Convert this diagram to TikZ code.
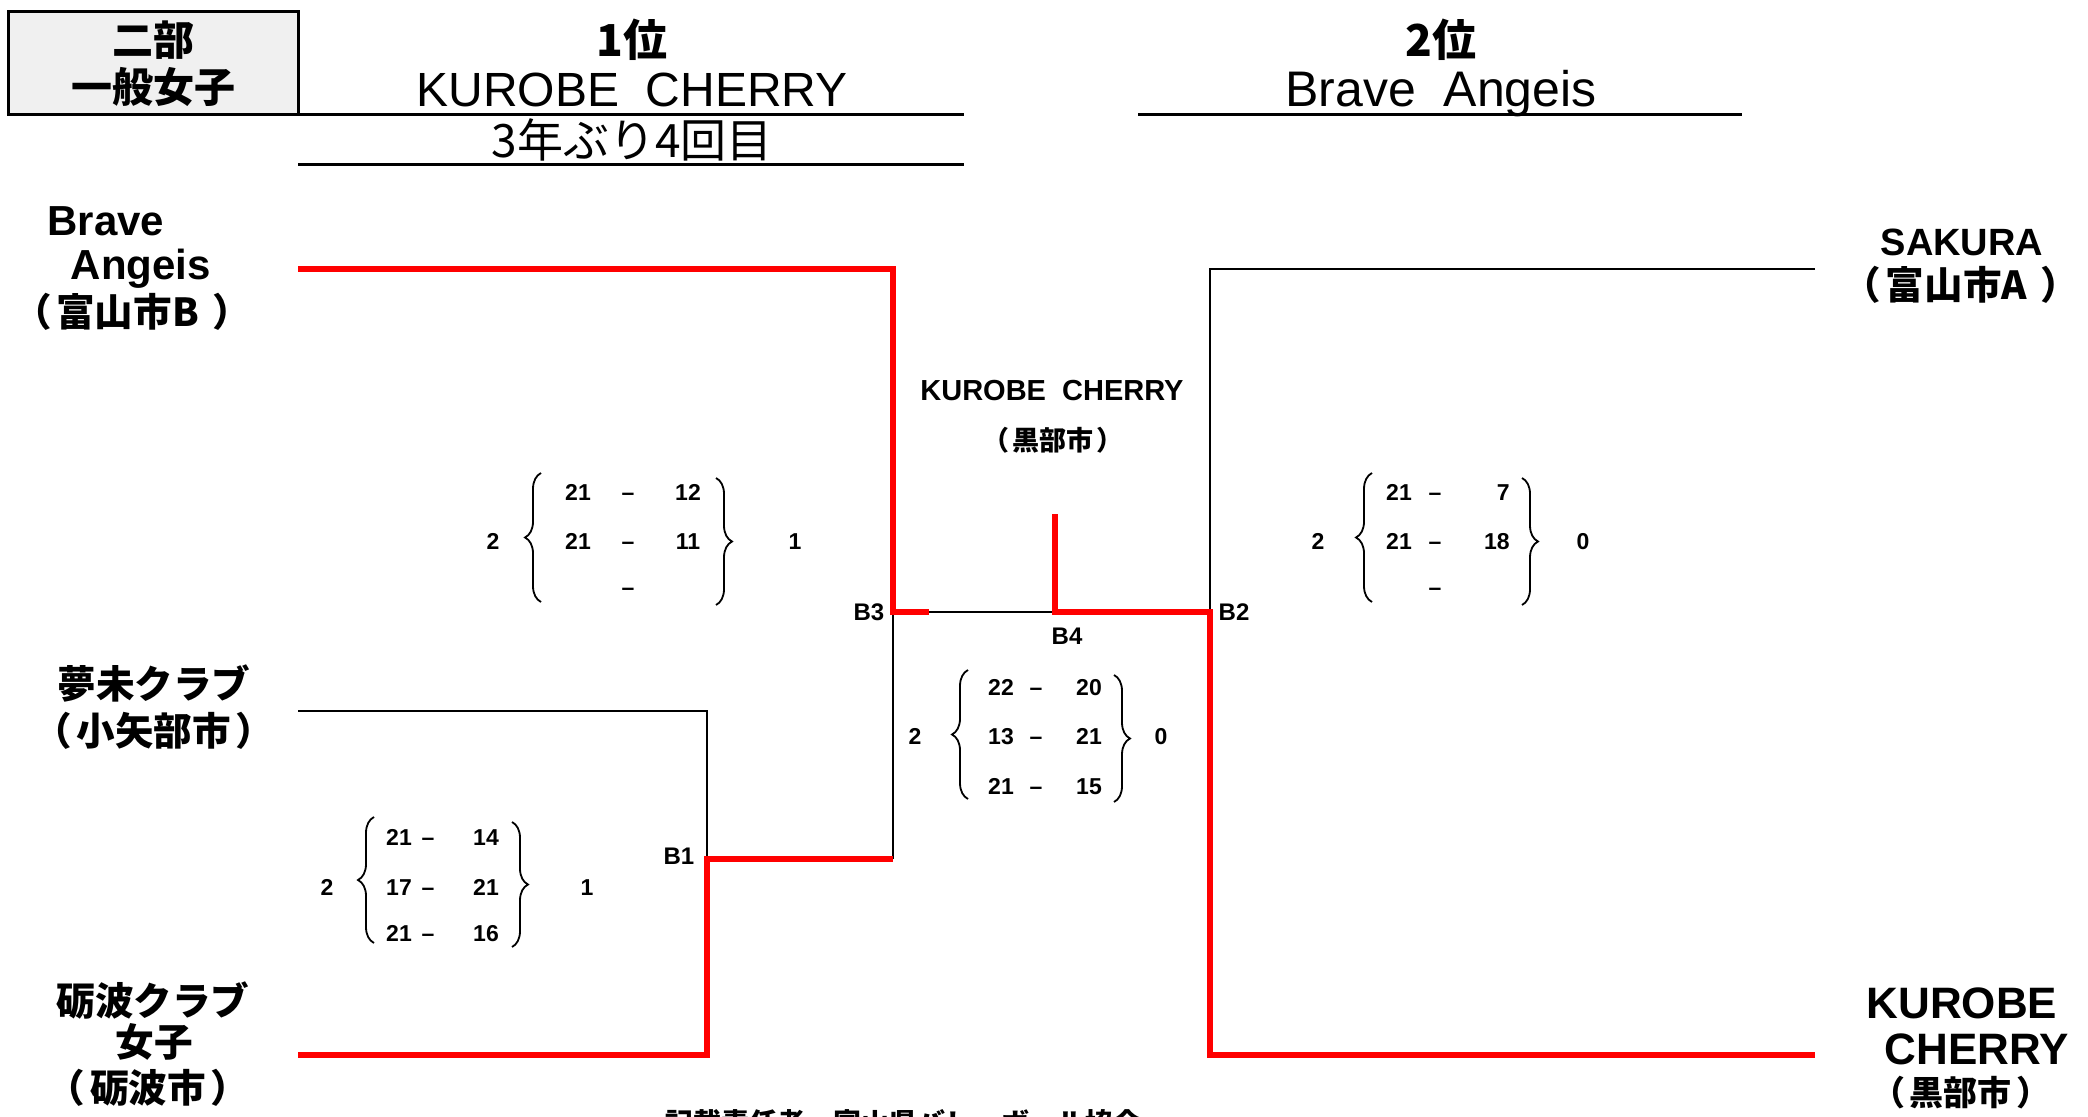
\documentclass[tikz,border=0pt]{standalone}
\usepackage{fontspec}
\setmainfont{Liberation Sans}
\newfontfamily\jp{Noto Sans CJK JP}
\usetikzlibrary{decorations.pathreplacing}
\newcommand\fsz[1]{\fontsize{#1}{#1}\selectfont}
\newcommand\lpr{（\hspace{0.12em}}
\newcommand\rpr{\hspace{0.12em}）}
\newcommand\rprw{\hspace{0.35em}）}
\definecolor{hdrgray}{RGB}{240,240,240}
\tikzset{
  win/.style={draw=red, line width=3pt},
  los/.style={draw=black, line width=1.25pt},
  rulel/.style={draw=black, line width=1.5pt},
  hdrbox/.style={draw=black, fill=hdrgray, line width=1.5pt},
  jh/.style={inner sep=0pt, font=\jp\bfseries\fsz{20.5}},
  jt/.style={inner sep=0pt, font=\jp\bfseries\fsz{22}},
  jr/.style={inner sep=0pt, font=\jp\fsz{23}},
  lh/.style={inner sep=0pt, font=\fsz{24}},
  tname/.style={inner sep=0pt, font=\bfseries\fsz{21}},
  jname/.style={inner sep=0pt, font=\jp\bfseries\fsz{19.3}},
  blabel/.style={inner sep=0pt, font=\bfseries\fsz{12}},
  sc/.style={inner sep=0pt, anchor=base, font=\bfseries\fsz{11.5}},
  brc/.style={draw=black, line width=0.9pt, decorate, decoration={brace, amplitude=8pt}},
}
\begin{document}
\begin{tikzpicture}[x=0.5pt,y=-0.5pt]
\useasboundingbox (0,0) rectangle (2088,1117);
% ---------- header ----------
\draw[hdrbox] (8,12) rectangle (298,115);
\node[jh] (nibu) at (153,40) {二部};
\node[jh] (ippan) at (153,87) {一般女子};
\node[jt] (first) at (632,40) {1位};
\node[lh] (firstname) at (632,90) {KUROBE\ \ CHERRY};
\node[jr] (firstnote) at (632,140) {3年ぶり4回目};
\node[jt] (second) at (1441,40) {2位};
\node[lh, anchor=base, font=\fsz{25}] (secondname) at (1441,107) {Brave\ \ Angeis};
\coordinate (r1a) at (298,115); \coordinate (r1b) at (964,115);
\coordinate (r2a) at (298,165); \coordinate (r2b) at (964,165);
\coordinate (r3a) at (1138,115); \coordinate (r3b) at (1742,115);
\draw[rulel] (r1a) -- (r1b);
\draw[rulel] (r2a) -- (r2b);
\draw[rulel] (r3a) -- (r3b);
% ---------- team names ----------
\node[tname] (ba1) at (106,221) {Brave};
\node[tname, anchor=base] (ba2) at (141,280) {Angeis};
\node[jname] (ba3) at (132,312) {\lpr 富山市B\rprw};
\node[jname] (ym1) at (154,684) {夢未クラブ};
\node[jname] (ym2) at (154,731) {\lpr 小矢部市\rpr};
\node[jname] (tn1) at (153,1000) {砺波クラブ};
\node[jname] (tn2) at (154,1042) {女子};
\node[jname] (tn3) at (148,1088) {\lpr 砺波市\rpr};
\node[tname, font=\bfseries\fsz{19}] (sa1) at (1962,242) {SAKURA};
\node[jname] (sa2) at (1961,285) {\lpr 富山市A\rprw};
\node[tname, font=\bfseries\fsz{22}] (kc1) at (1962,1003) {KUROBE};
\node[tname, font=\bfseries\fsz{22}] (kc2) at (1977,1049) {CHERRY};
\node[jname, font=\jp\bfseries\fsz{17}] (kc3) at (1961,1093) {\lpr 黒部市\rpr};
% champion
\node[tname, font=\bfseries\fsz{14.5}] (ch1) at (1052,391) {KUROBE\ \ CHERRY};
\node[jname, font=\jp\bfseries\fsz{13.5}] (ch2) at (1053,440) {\lpr 黒部市\rpr};
% ---------- bracket coordinates ----------
\coordinate (tBA) at (298,269);
\coordinate (cB3t) at (893,269);
\coordinate (B3) at (893,612);
\coordinate (B3r) at (929,612);
\coordinate (B4) at (1055,612);
\coordinate (B4t) at (1055,514);
\coordinate (B2) at (1210,612);
\coordinate (cB2t) at (1210,269);
\coordinate (tSA) at (1815,269);
\coordinate (cB2b) at (1210,1055);
\coordinate (tKC) at (1815,1055);
\coordinate (tYM) at (298,711);
\coordinate (cB1t) at (707,711);
\coordinate (B1) at (707,859);
\coordinate (cB1r) at (893,859);
\coordinate (cB1b) at (707,1055);
\coordinate (tTN) at (298,1055);
% losers (black)
\draw[los] (tYM) -- (cB1t) -- (B1);
\draw[los] (cB1r) -- (B3);
\draw[los] (B3r) -- (B4);
\draw[los] (tSA) -- (cB2t) -- (B2);
% winners (red)
\draw[win] (tBA) -- (cB3t) -- (B3) -- (B3r);
\draw[win] (tTN) -- (cB1b) -- (B1) -- (cB1r);
\draw[win] (B4t) -- (B4) -- (B2) -- (cB2b) -- (tKC);
% labels
\node[blabel] (lB3) at (869,612) {B3};
\node[blabel] (lB4) at (1067,636) {B4};
\node[blabel] (lB2) at (1234,612) {B2};
\node[blabel] (lB1) at (679,856) {B1};
% ---------- scores A (B3) ----------
\node[sc] (a0) at (493,549) {2};
\node[sc] (a11) at (578,501) {21}; \node[sc] (a12) at (628,501) {–}; \node[sc] (a13) at (688,501) {12};
\node[sc] (a21) at (578,549) {21}; \node[sc] (a22) at (628,549) {–}; \node[sc] (a23) at (688,549) {11};
\node[sc] (a32) at (628,595) {–};
\node[sc] (a4) at (795,549) {1};
\draw[brc] (541,602) -- (541,473);
\draw[brc] (716,478) -- (716,605);
% ---------- scores B (B2) ----------
\node[sc] (b0) at (1318,549) {2};
\node[sc] (b11) at (1399,501) {21}; \node[sc] (b12) at (1435,501) {–}; \node[sc, anchor=base east] (b13) at (1510,501) {7};
\node[sc] (b21) at (1399,549) {21}; \node[sc] (b22) at (1435,549) {–}; \node[sc, anchor=base east] (b23) at (1510,549) {18};
\node[sc] (b32) at (1435,595) {–};
\node[sc] (b4) at (1583,549) {0};
\draw[brc] (1372,602) -- (1372,473);
\draw[brc] (1522,478) -- (1522,605);
% ---------- scores C (B4) ----------
\node[sc] (c0) at (915,744) {2};
\node[sc] (c11) at (1001,695) {22}; \node[sc] (c12) at (1036,695) {–}; \node[sc] (c13) at (1089,695) {20};
\node[sc] (c21) at (1001,744) {13}; \node[sc] (c22) at (1036,744) {–}; \node[sc] (c23) at (1089,744) {21};
\node[sc] (c31) at (1001,794) {21}; \node[sc] (c32) at (1036,794) {–}; \node[sc] (c33) at (1089,794) {15};
\node[sc] (c4) at (1161,744) {0};
\draw[brc] (968,799) -- (968,670);
\draw[brc] (1114,675) -- (1114,802);
% ---------- scores D (B1) ----------
\node[sc] (d0) at (327,895) {2};
\node[sc] (d11) at (399,845) {21}; \node[sc] (d12) at (428,845) {–}; \node[sc] (d13) at (486,845) {14};
\node[sc] (d21) at (399,895) {17}; \node[sc] (d22) at (428,895) {–}; \node[sc] (d23) at (486,895) {21};
\node[sc] (d31) at (399,941) {21}; \node[sc] (d32) at (428,941) {–}; \node[sc] (d33) at (486,941) {16};
\node[sc] (d4) at (587,895) {1};
\draw[brc] (374,943) -- (374,817);
\draw[brc] (512,822) -- (512,947);
% ---------- footer (cut off at the lower edge, as in the reference) ----------
\node[jname, font=\jp\bfseries\fsz{14}, anchor=base] (foot) at (903,1133) {記載責任者　富山県バレーボール協会};
\end{tikzpicture}
\end{document}
